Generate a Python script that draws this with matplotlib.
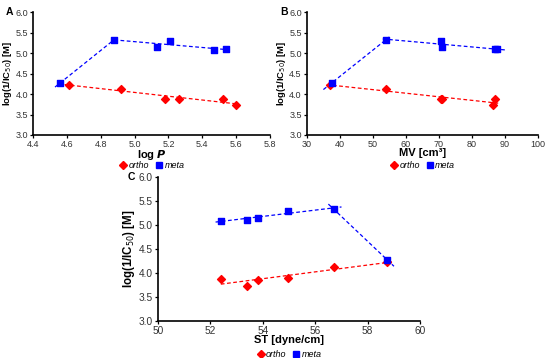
import numpy as np
import matplotlib as mpl
mpl.use('Agg')
import matplotlib.pyplot as plt
from matplotlib.lines import Line2D

plt.rcParams['font.family'] = ['Liberation Sans', 'DejaVu Sans']

# data
y_ortho = [4.23, 4.12, 3.87, 3.89, 3.88, 3.74]
y_meta = [4.27, 5.33, 5.15, 5.30, 5.08, 5.10]
logp_ortho = [4.61, 4.92, 5.18, 5.26, 5.52, 5.60]
logp_meta = [4.56, 4.88, 5.13, 5.21, 5.47, 5.54]

mv_ortho = [37.0, 54.0, 70.5, 71.0, 87.0, 86.5]
y_mv_ortho = [4.22, 4.12, 3.89, 3.87, 3.88, 3.74]
mv_meta = [37.5, 54.0, 70.5, 71.0, 87.0, 87.5]
y_mv_meta = [4.27, 5.33, 5.30, 5.15, 5.10, 5.09]

st_ortho = [52.4, 53.4, 53.8, 54.95, 56.7, 58.75]
y_st_ortho = [3.88, 3.74, 3.86, 3.89, 4.12, 4.23]
st_meta = [52.4, 53.4, 53.8, 54.95, 56.7, 58.75]
y_st_meta = [5.08, 5.11, 5.15, 5.30, 5.33, 4.27]

RED = '#ff0000'
BLUE = '#0000ff'
YLAB = r'log(1/IC$_{50}$) [M]'


def trend(ax, x, y, x0, x1, color):
    k, b = np.polyfit(x, y, 1)
    xs = np.array([x0, x1])
    ax.plot(xs, k * xs + b, ls=(0, (3, 2)), lw=0.9, color=color, zorder=1)


def panel(ax, xo, yo, xm, ym, letter, xlabel, xlim, xticks, fmt, leg_y, let_x,
          tsize=6.5, ysize=6.8):
    ax.scatter(xo, yo, marker='D', s=16, color=RED, zorder=3)
    ax.scatter(xm, ym, marker='s', s=20, color=BLUE, zorder=3)
    ax.set_xlim(*xlim)
    ax.set_ylim(3.0, 6.0)
    ax.set_xticks(xticks)
    ax.set_xticklabels([fmt.format(t) for t in xticks])
    ax.set_yticks(np.arange(3.0, 6.01, 0.5))
    ax.set_yticklabels(['{:.1f}'.format(t) for t in np.arange(3.0, 6.01, 0.5)])
    ax.tick_params(labelsize=tsize, length=2.5, width=0.9, pad=1.2, labelcolor='#333333')
    for s in ['top', 'right']:
        ax.spines[s].set_visible(False)
    for s in ['left', 'bottom']:
        ax.spines[s].set_linewidth(1.2)
    ax.set_xlabel(xlabel, fontsize=8, fontweight='bold', labelpad=-1)
    ax.set_ylabel(YLAB, fontsize=ysize, fontweight='bold', labelpad=1.0)
    ax.text(let_x, 1.0, letter, transform=ax.transAxes, fontsize=7.5,
            fontweight='bold', va='center', ha='center')
    handles = [Line2D([], [], marker='D', ls='', color=RED, markersize=4),
               Line2D([], [], marker='s', ls='', color=BLUE, markersize=4.5)]
    leg = ax.legend(handles, ['ortho', 'meta'], loc='center',
                    bbox_to_anchor=(0.5, leg_y), ncol=2, frameon=False,
                    fontsize=6.5, handletextpad=0.1, columnspacing=0.6,
                    handlelength=1.0, borderpad=0)
    for t in leg.get_texts():
        t.set_fontstyle('italic')


fig = plt.figure(figsize=(5.5, 3.58), dpi=100)
axA = fig.add_axes([0.06, 0.623, 0.431, 0.343])
axB = fig.add_axes([0.558, 0.623, 0.42, 0.343])
axC = fig.add_axes([0.287, 0.103, 0.477, 0.403])

# A
panel(axA, logp_ortho, y_ortho, logp_meta, y_meta, 'A', r'log $\boldsymbol{P}$',
      (4.4, 5.8), np.arange(4.4, 5.81, 0.2), '{:.1f}', -0.25, -0.1)
trend(axA, logp_ortho, y_ortho, 4.55, 5.6, RED)
trend(axA, logp_meta[:2], y_meta[:2], 4.53, 4.89, BLUE)
trend(axA, logp_meta[1:], y_meta[1:], 4.88, 5.55, BLUE)

# B
panel(axB, mv_ortho, y_mv_ortho, mv_meta, y_mv_meta, 'B', 'MV [cm\u00b3]',
      (30, 100), np.arange(30, 101, 10), '{:.0f}', -0.25, -0.1)
trend(axB, mv_ortho, y_mv_ortho, 36, 88, RED)
trend(axB, mv_meta[:2], y_mv_meta[:2], 35, 55, BLUE)
trend(axB, mv_meta[1:], y_mv_meta[1:], 53, 90, BLUE)

# C
panel(axC, st_ortho, y_st_ortho, st_meta, y_st_meta, 'C', 'ST [dyne/cm]',
      (50, 60), np.arange(50, 61, 2), '{:.0f}', -0.23, -0.1,
      tsize=7.3, ysize=8.3)
trend(axC, st_ortho, y_st_ortho, 52.4, 59.0, RED)
trend(axC, st_meta[4:], y_st_meta[4:], 56.5, 59.0, BLUE)
trend(axC, st_meta[:5], y_st_meta[:5], 52.2, 57.0, BLUE)

fig.savefig('out.png', dpi=100)
